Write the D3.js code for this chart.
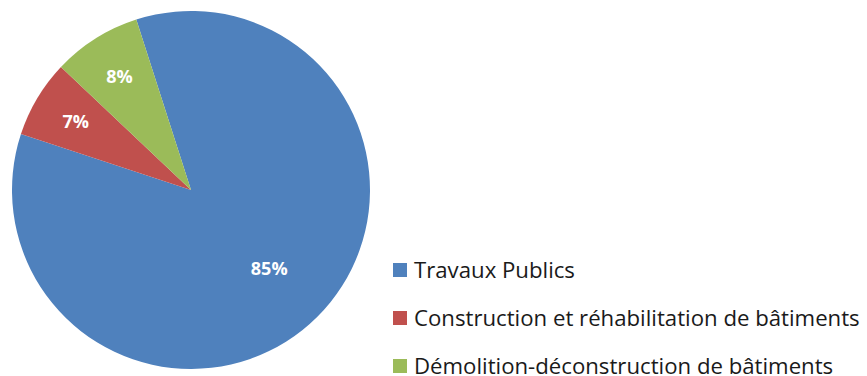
<!DOCTYPE html>
<html>
<head>
<meta charset="utf-8">
<script src="https://cdn.jsdelivr.net/npm/d3@7"></script>
<style>
  html, body { margin: 0; padding: 0; background: #fff; }
  svg { display: block; }
  text { font-variant-ligatures: none; }
</style>
</head>
<body>
<svg id="chart" width="867" height="376"></svg>
<script>
// Share of waste by activity sector (percent)
const categories = ["Travaux Publics", "Construction et réhabilitation de bâtiments", "Démolition-déconstruction de bâtiments"];
const values = [85, 7, 8];
const colors = ["#4F81BD", "#C0504D", "#9BBB59"];

const width = 867, height = 376;
const cx = 191, cy = 190, radius = 179;
const firstSliceAngle = -17.8 * Math.PI / 180;

const svg = d3.select("#chart");

const pie = d3.pie()
  .sort(null)
  .value(d => d.value)
  .startAngle(firstSliceAngle)
  .endAngle(firstSliceAngle + 2 * Math.PI);

const data = categories.map((c, i) => ({ category: c, value: values[i], color: colors[i] }));
const arcs = pie(data);

const arc = d3.arc().innerRadius(0).outerRadius(radius);

const g = svg.append("g").attr("transform", `translate(${cx},${cy})`);

g.selectAll("path.slice")
  .data(arcs)
  .join("path")
  .attr("class", "slice")
  .attr("d", arc)
  .attr("fill", d => d.data.color);

// Percentage labels: small slices sit near the rim, the large one closer in
const total = d3.sum(values);
g.selectAll("text.pct")
  .data(arcs)
  .join("text")
  .attr("class", "pct")
  .attr("transform", d => {
    const share = d.data.value / total;
    const r = radius * (share > 0.5 ? 0.62 : 0.75);
    const a = (d.startAngle + d.endAngle) / 2;
    return `translate(${Math.sin(a) * r},${-Math.cos(a) * r})`;
  })
  .attr("text-anchor", "middle")
  .attr("dy", "0.36em")
  .attr("fill", "#ffffff")
  .style("font-family", "'Open Sans', Lato, sans-serif")
  .style("font-weight", "bold")
  .style("font-size", "18px")
  .text(d => d3.format(".0%")(d.data.value / total));

// Legend
const legendX = 393, legendY0 = 270, legendStep = 48;
const legend = svg.append("g")
  .selectAll("g")
  .data(data)
  .join("g")
  .attr("transform", (d, i) => `translate(${legendX},${legendY0 + i * legendStep})`);

legend.append("rect")
  .attr("x", 0).attr("y", -7)
  .attr("width", 14).attr("height", 14)
  .attr("fill", d => d.color);

legend.append("text")
  .attr("x", 21)
  .attr("y", 0)
  .attr("dy", "0.36em")
  .attr("fill", "#1a1a1a")
  .style("font-family", "'Open Sans', Lato, sans-serif")
  .style("font-size", "22.2px")
  .text(d => d.category);
</script>
</body>
</html>
